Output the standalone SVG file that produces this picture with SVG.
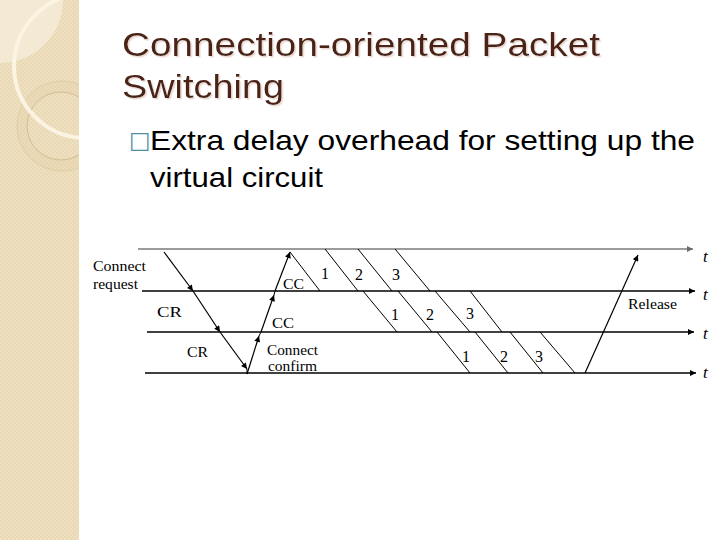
<svg xmlns="http://www.w3.org/2000/svg" width="720" height="540" viewBox="0 0 720 540">
<defs>
<pattern id="chk" width="4" height="4" patternUnits="userSpaceOnUse">
<rect width="4" height="4" fill="#EFE0C1"/>
<rect width="2" height="2" fill="#E9D8B4"/>
<rect x="2" y="2" width="2" height="2" fill="#E9D8B4"/>
</pattern>
<clipPath id="strip"><rect x="0" y="0" width="79" height="540"/></clipPath>
<marker id="ah" viewBox="0 0 10 10" refX="10" refY="5" markerWidth="8" markerHeight="6" markerUnits="userSpaceOnUse" orient="auto">
<path d="M0,0 L10,5 L0,10 z" fill="#000"/>
</marker>
<marker id="ahg" viewBox="0 0 10 10" refX="10" refY="5" markerWidth="9" markerHeight="6" markerUnits="userSpaceOnUse" orient="auto">
<path d="M0,0 L10,5 L0,10 z" fill="#6a6a6a"/>
</marker>
<filter id="sh" x="-5%" y="-20%" width="110%" height="140%">
<feDropShadow dx="1.5" dy="1.5" stdDeviation="0.6" flood-color="#EBD8D0" flood-opacity="1"/>
</filter>
</defs>
<style>
.title{font-family:"Liberation Sans",Arial,sans-serif;font-size:33px;fill:#4B2418}
.body{font-family:"Liberation Sans",Arial,sans-serif;font-size:28px;fill:#000}
.lbl{font-family:"Liberation Serif","Times New Roman",serif;font-size:15px;fill:#000}
.num{font-family:"Liberation Serif","Times New Roman",serif;font-size:16px;fill:#000}
.t{font-family:"Liberation Serif","Times New Roman",serif;font-size:17px;font-style:italic;fill:#000}
.ax{stroke:#000;stroke-width:1.3;fill:none}
.pk{stroke:#000;stroke-width:1;fill:none}
.sg{stroke:#000;stroke-width:1.2;fill:none;marker-end:url(#ah)}
</style>
<rect width="720" height="540" fill="#fff"/>
<g id="background" clip-path="url(#strip)">
<rect x="0" y="0" width="79" height="540" fill="url(#chk)"/>
<circle cx="0" cy="0" r="63" fill="#F6EEDB" opacity="0.75"/>
<circle cx="62" cy="126" r="45" fill="#E8D6B0" opacity="0.5" stroke="#D2BD95" stroke-width="1"/>
<circle cx="61" cy="126" r="34" fill="url(#chk)" stroke="#D2BD95" stroke-width="1"/>
<circle cx="86" cy="66" r="72" fill="none" stroke="#FBF4E2" stroke-width="4"/>
</g>
<g id="title" filter="url(#sh)">
<text class="title" x="122" y="56" textLength="478" lengthAdjust="spacingAndGlyphs">Connection-oriented Packet</text>
<text class="title" x="122" y="98" textLength="162" lengthAdjust="spacingAndGlyphs">Switching</text>
</g>
<g id="bullet">
<text x="129" y="148" style="font-family:'DejaVu Sans',sans-serif;font-size:23px;fill:#4E8FA6">□</text>
<text class="body" x="150" y="150" textLength="545" lengthAdjust="spacingAndGlyphs">Extra delay overhead for setting up the</text>
<text class="body" x="150" y="187" textLength="173" lengthAdjust="spacingAndGlyphs">virtual circuit</text>
</g>
<g id="timelines">
<line x1="138" y1="249" x2="693" y2="249" stroke="#7a7a7a" stroke-width="1.5" marker-end="url(#ahg)"/>
<line class="ax" x1="142" y1="291" x2="695" y2="291" marker-end="url(#ah)"/>
<line class="ax" x1="147" y1="332" x2="694" y2="332" marker-end="url(#ah)"/>
<line class="ax" x1="145" y1="373" x2="696" y2="373" marker-end="url(#ah)"/>
<text class="t" x="703" y="262">t</text>
<text class="t" x="703" y="300">t</text>
<text class="t" x="703" y="339">t</text>
<text class="t" x="703" y="378">t</text>
</g>
<g id="connectors">
<line class="sg" x1="164" y1="252" x2="193" y2="291"/>
<line class="sg" x1="193" y1="291" x2="220" y2="332"/>
<line class="sg" x1="220" y1="332" x2="247" y2="369"/>
<line class="pk" x1="247" y1="369" x2="247" y2="374"/>
<line class="sg" x1="247" y1="374" x2="259" y2="336"/>
<line class="pk" x1="259" y1="336" x2="261" y2="332"/>
<line class="sg" x1="261" y1="332" x2="274" y2="295"/>
<line class="pk" x1="274" y1="295" x2="275" y2="291"/>
<line class="sg" x1="275" y1="291" x2="290" y2="252"/>
<line class="sg" x1="585" y1="373" x2="638" y2="255"/>
<g id="packets">
<line class="pk" x1="290" y1="252" x2="320" y2="291"/>
<line class="pk" x1="325" y1="249" x2="358" y2="291"/>
<line class="pk" x1="358" y1="249" x2="392" y2="291"/>
<line class="pk" x1="395" y1="249" x2="430" y2="291"/>
<line class="pk" x1="363" y1="291" x2="397" y2="332"/>
<line class="pk" x1="398" y1="291" x2="432" y2="332"/>
<line class="pk" x1="435" y1="291" x2="470" y2="332"/>
<line class="pk" x1="470" y1="291" x2="502" y2="332"/>
<line class="pk" x1="437" y1="332" x2="470" y2="373"/>
<line class="pk" x1="475" y1="332" x2="508" y2="373"/>
<line class="pk" x1="510" y1="332" x2="543" y2="373"/>
<line class="pk" x1="540" y1="332" x2="575" y2="373"/>
</g>
</g>
<g id="labels">
<text class="lbl" x="93" y="271" textLength="53" lengthAdjust="spacingAndGlyphs">Connect</text>
<text class="lbl" x="93" y="289" textLength="45" lengthAdjust="spacingAndGlyphs">request</text>
<text class="lbl" x="157" y="317" textLength="25" lengthAdjust="spacingAndGlyphs">CR</text>
<text class="lbl" x="187" y="357" textLength="21" lengthAdjust="spacingAndGlyphs">CR</text>
<text class="lbl" x="283" y="289" textLength="21" lengthAdjust="spacingAndGlyphs">CC</text>
<text class="lbl" x="272" y="328" textLength="22" lengthAdjust="spacingAndGlyphs">CC</text>
<text class="lbl" x="267" y="355" textLength="51" lengthAdjust="spacingAndGlyphs">Connect</text>
<text class="lbl" x="268" y="371" textLength="49" lengthAdjust="spacingAndGlyphs">confirm</text>
<text class="lbl" x="628" y="309" textLength="49" lengthAdjust="spacingAndGlyphs">Release</text>
<text class="num" x="321" y="279">1</text>
<text class="num" x="355" y="280">2</text>
<text class="num" x="392" y="280">3</text>
<text class="num" x="391" y="320">1</text>
<text class="num" x="426" y="320">2</text>
<text class="num" x="466" y="319">3</text>
<text class="num" x="462" y="362">1</text>
<text class="num" x="500" y="362">2</text>
<text class="num" x="535" y="362">3</text>
</g>
</svg>
